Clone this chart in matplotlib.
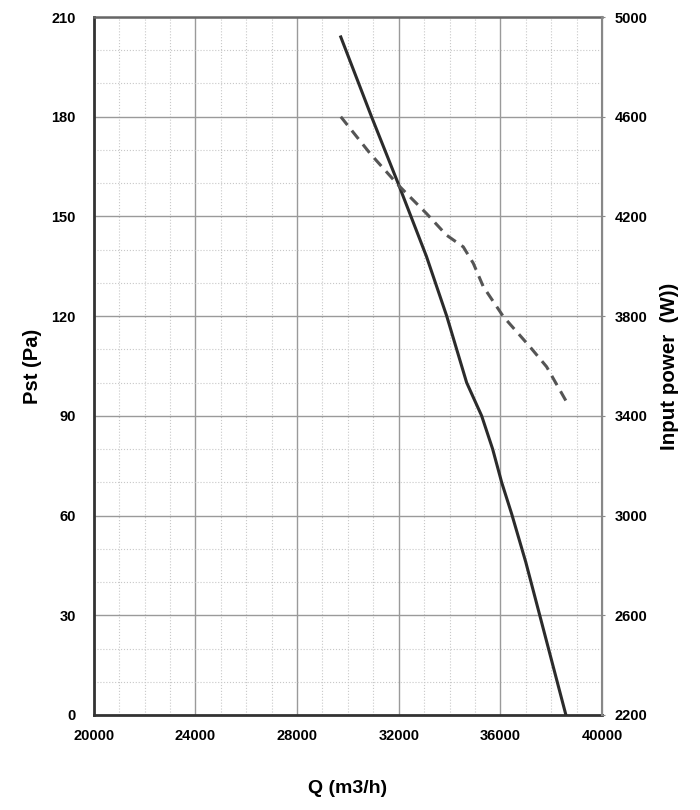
import numpy as np
import matplotlib.pyplot as plt
from matplotlib.ticker import MultipleLocator

plt.rcParams['font.family'] = ['Liberation Sans', 'DejaVu Sans']
plt.rcParams['font.weight'] = 'bold'

# static pressure curve
q_pst = [29720, 30930, 32000, 33090, 33890, 34673, 35264, 35697, 36051, 36445,
         37000, 37550, 38580]
pst = [204, 180, 159.5, 138, 120, 100, 90, 80, 70, 60.5,
       46, 30, 0]

# input power curve
q_pow = [29720, 30870, 31980, 33090, 33880, 34540, 34935, 35330, 36120, 37165, 37820, 38600]
power = [4600, 4453, 4326, 4212, 4125, 4078, 4012, 3918, 3798, 3677, 3597, 3457]

fig = plt.figure(figsize=(7, 8.1), dpi=100)
ax = fig.add_axes([0.134, 0.1173, 0.726, 0.8617])
ax2 = ax.twinx()

ax.set_xlim(20000, 40000)
ax.set_ylim(0, 210)
ax2.set_ylim(2200, 5000)

ax.xaxis.set_major_locator(MultipleLocator(4000))
ax.xaxis.set_minor_locator(MultipleLocator(1000))
ax.yaxis.set_major_locator(MultipleLocator(30))
ax.yaxis.set_minor_locator(MultipleLocator(10))
ax2.set_yticks(np.arange(2200, 5001, 400))

ax.grid(which='major', color='#9a9a9a', linewidth=1.0, linestyle='-')
ax.grid(which='minor', color='#c8c8c8', linewidth=0.8, linestyle=':')
ax.set_axisbelow(True)

ax.plot(q_pst, pst, color='#2b2b2b', linewidth=2.2, zorder=3)
ax2.plot(q_pow, power, color='#555555', linewidth=2.2, linestyle=(0, (3.5, 2.3)), zorder=3)

for s in ['left', 'bottom']:
    ax.spines[s].set_color('#333333')
    ax.spines[s].set_linewidth(2)
ax.spines['top'].set_color('#666666')
ax.spines['top'].set_linewidth(1.8)
ax2.spines['right'].set_color('#888888')
ax2.spines['right'].set_linewidth(1.5)
ax2.spines['left'].set_visible(False)
ax2.spines['top'].set_visible(False)
ax2.spines['bottom'].set_visible(False)

ax.tick_params(axis='both', which='both', length=0, labelsize=10.5)
ax.tick_params(axis='y', pad=13)
ax.tick_params(axis='x', pad=10)
ax2.tick_params(axis='y', length=2.5, color='#888888', labelsize=10.5, pad=6.5)

ax.set_xlabel('Q (m3/h)', fontsize=14, fontweight='bold', labelpad=27)
ax.set_ylabel('Pst (Pa)', fontsize=14.5, fontweight='bold', labelpad=7)
ax2.set_ylabel('Input power  (W))', fontsize=14.8, fontweight='bold', labelpad=9)

fig.savefig('out.png', dpi=100)
